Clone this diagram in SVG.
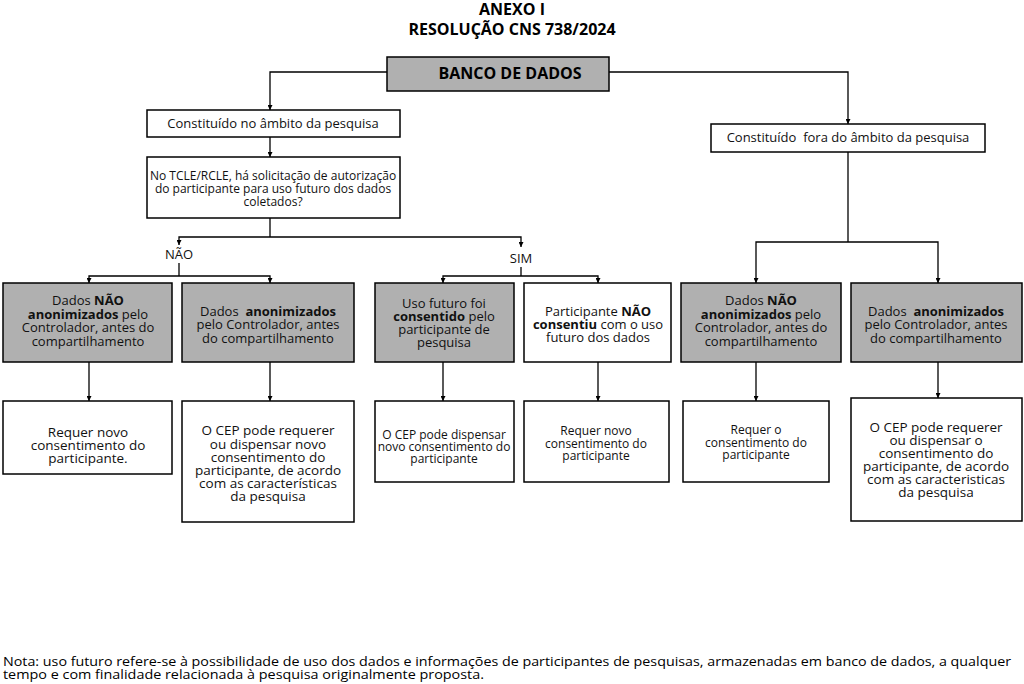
<svg xmlns="http://www.w3.org/2000/svg" width="1024" height="684" viewBox="0 0 1024 684">
<defs>
<marker id="ah" viewBox="0 0 10 10" refX="10" refY="5" markerWidth="5" markerHeight="5" orient="auto" markerUnits="userSpaceOnUse">
<path d="M0,0 L10,5 L0,10 z" fill="#000"/>
</marker>
<style>
.bx{stroke:#000;stroke-width:1.5;fill:#fff}
.g{fill:#b0b0b0}
.t{font-family:"Open Sans","Noto Sans",sans-serif;font-size:13px;fill:#111;text-anchor:middle}
.s{font-size:12px}
.l{font-size:13.5px}
.b{font-weight:bold}
.h{font-family:"Open Sans","Noto Sans",sans-serif;font-weight:bold;font-size:16px;fill:#000;text-anchor:middle}
.c{fill:none;stroke:#000;stroke-width:1.3}
.a{marker-end:url(#ah)}
.n{font-family:"Liberation Sans Narrow","Open Sans",sans-serif;font-size:13px;fill:#000}
</style>
</defs>
<rect width="1024" height="684" fill="#fff"/>
<text class="h" x="512" y="15">ANEXO I</text>
<text class="h" x="512" y="35">RESOLUÇÃO CNS 738/2024</text>

<g id="connectors">
<path class="c a" d="M387,72 H270 V110"/>
<path class="c a" d="M609,72 H848 V124"/>
<path class="c a" d="M270,137 V157"/>
<path class="c" d="M270,218 V237"/>
<path class="c a" d="M270,237 H179 V245"/>
<path class="c a" d="M270,237 H521 V247"/>
<path class="c" d="M179,263 V276"/>
<path class="c a" d="M179,276 H89 V283"/>
<path class="c a" d="M179,276 H270 V283"/>
<path class="c" d="M521,267 V276"/>
<path class="c a" d="M521,276 H443 V283"/>
<path class="c a" d="M521,276 H598 V283"/>
<path class="c" d="M848,152 V242"/>
<path class="c a" d="M848,242 H756 V283"/>
<path class="c a" d="M848,242 H938 V283"/>
<path class="c a" d="M89,362 V401"/>
<path class="c a" d="M270,362 V401"/>
<path class="c a" d="M443,362 V401"/>
<path class="c a" d="M598,362 V401"/>
<path class="c a" d="M756,362 V401"/>
<path class="c a" d="M938,362 V398"/>
</g>

<text class="t" x="179" y="259">NÃO</text>
<text class="t" x="521" y="263">SIM</text>

<g id="banco">
<rect class="bx g" x="387" y="57" width="222" height="34"/>
<text class="h" x="510" y="79">BANCO DE DADOS</text>
</g>

<g id="no-ambito">
<rect class="bx" x="147" y="110" width="253" height="27"/>
<text class="t" x="273" y="128">Constituído no âmbito da pesquisa</text>
</g>

<g id="fora-ambito">
<rect class="bx" x="711" y="124" width="274" height="28"/>
<text class="t" x="848" y="142" xml:space="preserve">Constituído  fora do âmbito da pesquisa</text>
</g>

<g id="pergunta">
<rect class="bx" x="147" y="157" width="253" height="61"/>
<text class="t s" x="273" y="180">No TCLE/RCLE, há solicitação de autorização</text>
<text class="t s" x="273" y="193">do participante para uso futuro dos dados</text>
<text class="t s" x="273" y="206">coletados?</text>
</g>

<g id="b1">
<rect class="bx g" x="3" y="283" width="169" height="79"/>
<text class="t" x="88" y="305">Dados <tspan class="b">NÃO</tspan></text>
<text class="t" x="88" y="319"><tspan class="b">anonimizados</tspan> pelo</text>
<text class="t" x="88" y="332">Controlador, antes do</text>
<text class="t" x="88" y="346">compartilhamento</text>
</g>

<g id="b2">
<rect class="bx g" x="182" y="283" width="172" height="79"/>
<text class="t" x="268" y="316" xml:space="preserve">Dados  <tspan class="b">anonimizados</tspan></text>
<text class="t" x="268" y="329">pelo Controlador, antes</text>
<text class="t" x="268" y="343">do compartilhamento</text>
</g>

<g id="b3">
<rect class="bx g" x="375" y="283" width="139" height="79"/>
<text class="t" x="444" y="308">Uso futuro foi</text>
<text class="t" x="444" y="321"><tspan class="b">consentido</tspan> pelo</text>
<text class="t" x="444" y="334">participante de</text>
<text class="t" x="444" y="347">pesquisa</text>
</g>

<g id="b4">
<rect class="bx" x="524" y="283" width="147" height="79"/>
<text class="t" x="598" y="316">Participante <tspan class="b">NÃO</tspan></text>
<text class="t" x="598" y="329"><tspan class="b">consentiu</tspan> com o uso</text>
<text class="t" x="598" y="342">futuro dos dados</text>
</g>

<g id="b5">
<rect class="bx g" x="681" y="283" width="160" height="79"/>
<text class="t" x="761" y="305">Dados <tspan class="b">NÃO</tspan></text>
<text class="t" x="761" y="319"><tspan class="b">anonimizados</tspan> pelo</text>
<text class="t" x="761" y="332">Controlador, antes do</text>
<text class="t" x="761" y="346">compartilhamento</text>
</g>

<g id="b6">
<rect class="bx g" x="851" y="283" width="171" height="79"/>
<text class="t" x="936" y="316" xml:space="preserve">Dados  <tspan class="b">anonimizados</tspan></text>
<text class="t" x="936" y="329">pelo Controlador, antes</text>
<text class="t" x="936" y="343">do compartilhamento</text>
</g>

<g id="c1">
<rect class="bx" x="3" y="401" width="169" height="73"/>
<text class="t l" x="88" y="437">Requer novo</text>
<text class="t l" x="88" y="450">consentimento do</text>
<text class="t l" x="88" y="463">participante.</text>
</g>

<g id="c2">
<rect class="bx" x="182" y="401" width="172" height="121"/>
<text class="t l" x="268" y="435">O CEP pode requerer</text>
<text class="t l" x="268" y="449">ou dispensar novo</text>
<text class="t l" x="268" y="462">consentimento do</text>
<text class="t l" x="268" y="475">participante, de acordo</text>
<text class="t l" x="268" y="488">com as características</text>
<text class="t l" x="268" y="501">da pesquisa</text>
</g>

<g id="c3">
<rect class="bx" x="375" y="401" width="139" height="81"/>
<text class="t s" x="444" y="439">O CEP pode dispensar</text>
<text class="t s" x="444" y="451">novo consentimento do</text>
<text class="t s" x="444" y="463">participante</text>
</g>

<g id="c4">
<rect class="bx" x="524" y="401" width="145" height="81"/>
<text class="t s" x="596" y="435">Requer novo</text>
<text class="t s" x="596" y="448">consentimento do</text>
<text class="t s" x="596" y="460">participante</text>
</g>

<g id="c5">
<rect class="bx" x="683" y="401" width="146" height="81"/>
<text class="t s" x="756" y="434">Requer o</text>
<text class="t s" x="756" y="447">consentimento do</text>
<text class="t s" x="756" y="459">participante</text>
</g>

<g id="c6">
<rect class="bx" x="851" y="398" width="171" height="123"/>
<text class="t l" x="936" y="432">O CEP pode requerer</text>
<text class="t l" x="936" y="445">ou dispensar o</text>
<text class="t l" x="936" y="458">consentimento do</text>
<text class="t l" x="936" y="471">participante, de acordo</text>
<text class="t l" x="936" y="484">com as caracteristicas</text>
<text class="t l" x="936" y="497">da pesquisa</text>
</g>

<text class="n" x="3" y="666" textLength="1008" lengthAdjust="spacingAndGlyphs">Nota: uso futuro refere-se à possibilidade de uso dos dados e informações de participantes de pesquisas, armazenadas em banco de dados, a qualquer</text>
<text class="n" x="3" y="679" textLength="481" lengthAdjust="spacingAndGlyphs">tempo e com finalidade relacionada à pesquisa originalmente proposta.</text>
</svg>
